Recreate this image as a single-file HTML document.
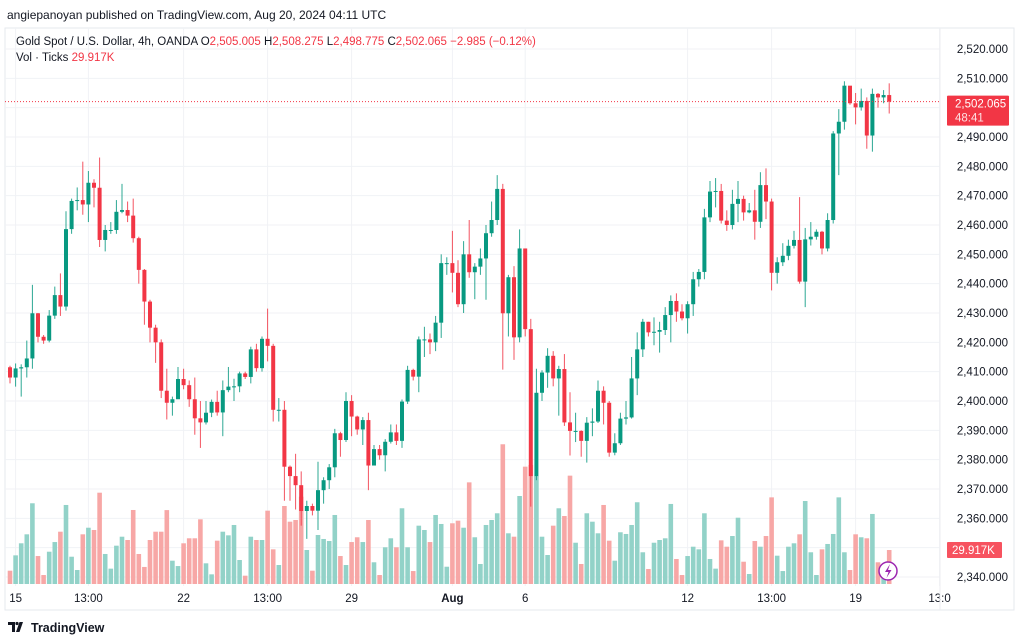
<!DOCTYPE html>
<html><head><meta charset="utf-8"><style>
html,body{margin:0;padding:0;background:#fff;}
body{width:1024px;height:643px;overflow:hidden;font-family:"Liberation Sans",sans-serif;position:relative;}
svg{position:absolute;left:0;top:0;}
</style></head><body>
<svg id="chart" width="1024" height="643" xmlns="http://www.w3.org/2000/svg">
<rect x="5" y="28" width="1009" height="582" fill="none" stroke="#e6e8ee"/>
<g id="grid"></g>
<g id="vol"></g>
<g id="candles"></g>
<g id="axis"></g>
<text x="7" y="19" font-size="12" fill="#131722">angiepanoyan published on TradingView.com, Aug 20, 2024 04:11 UTC</text>
<text x="16" y="45" font-size="11.5" fill="#131722">Gold Spot / U.S. Dollar, 4h, OANDA  O<tspan fill="#f23645">2,505.005</tspan>  H<tspan fill="#f23645">2,508.275</tspan>  L<tspan fill="#f23645">2,498.775</tspan>  C<tspan fill="#f23645">2,502.065</tspan>  <tspan fill="#f23645">−2.985 (−0.12%)</tspan></text>
<text x="16" y="61" font-size="11.5" fill="#131722">Vol · Ticks  <tspan fill="#f23645">29.917K</tspan></text>
<g>
<path d="M8 622h7v10h-3v-7H8z M16 632l3.5-10h3.5l-3.5 10z" fill="#131722"/>
<circle cx="17" cy="623.5" r="1.6" fill="#131722"/>
<text x="31" y="632" font-size="12.5" font-weight="bold" fill="#131722">TradingView</text>
</g>
</svg>
<script>
const closes=[2408,2411.1,2411.5,2414.5,2429.9,2421.9,2420.6,2429.1,2436.1,2432.2,2458.6,2468.2,2468.5,2467,2474.4,2472.7,2454.9,2458.3,2458.3,2464.5,2465.1,2463.2,2455.5,2444.7,2433.9,2425,2420,
2403.5,2399.4,2400.6,2407.5,2405.4,2400.6,2394.1,2392.7,2396,2399.7,2396.1,2403.7,2404.9,2405,2409.4,2408.2,2417.6,2411.2,2421.2,2418.8,2397,2397,2377.6,2374.4,2371.3,2362.5,2364.2,
2362.6,2369.6,2373,2377.4,2389,2386.7,2400,2394.7,2390.3,2393.5,2378,2383.6,2381.5,2386.1,2389.3,2386.4,2399.8,2410.6,2408.3,2421,2421,2420,2426.7,2447,2447,2443.7,2433,
2450,2443.9,2445.8,2448.6,2457.2,2461.7,2472.3,2429.9,2442.2,2421.7,2452,2424.5,2374.4,2402.8,2409.7,2415.4,2407.7,2410.9,2392.7,2389.8,2389.8,2386.4,2392.6,2393,2403.5,2399.4,2382.4,
2385.6,2394,2394.4,2407.7,2417.6,2427,2423.4,2423.6,2424.2,2429.3,2434.1,2430.5,2428.2,2433,2441.5,2444,2462.6,2471.4,2471.6,2461.5,2460,2467.2,2468.9,2464.3,2465,2461.1,2473.6,
2468,2443.7,2447.3,2449.5,2452.9,2454.9,2440.7,2455.1,2456,2457.7,2452,2461.7,2491.2,2495.2,2507.5,2501.5,2500.1,2502.3,2490.5,2504.7,2503.5,2504.3,2502.065];
const highs=[2412,2412.8,2412.5,2420.6,2439.6,2430,2422.5,2431,2439,2443.5,2464.7,2469,2472.8,2481.6,2478.4,2475.6,2483,2460,2461,2468.5,2474,2468,2469,2456,2445,2434.5,2426,
2421,2411,2401.5,2411.6,2411,2407,2408,2400,2400,2400.5,2403.5,2407,2411.6,2407.6,2410,2410,2418.5,2419.5,2422,2431.5,2419.5,2401,2400,2378,2382,2376,2366,
2365,2379.3,2374,2378.5,2390.5,2389.5,2403,2402,2395,2394.5,2396,2385,2385,2387,2392,2392,2400.5,2412,2411,2422,2425.3,2423,2429,2450,2449,2458,2448,
2454.5,2461.7,2447,2452,2460,2468,2477,2474,2443,2446,2458.5,2452,2428,2411,2410.5,2418,2417,2412,2416,2403,2396,2390,2394.5,2397.5,2407,2405,2400,
2389,2396,2400,2415,2423.4,2428,2427,2428.5,2427,2432,2436,2436.7,2433,2434,2444,2445,2465.5,2475,2476,2474,2465,2472,2475,2470,2467.5,2472,2478,
2479.3,2469,2449,2453.8,2455,2458,2469.5,2459,2461,2458.5,2458,2464,2492,2499.5,2509,2506,2505,2506.5,2503.5,2506.5,2505,2506,2508.3];
const lows=[2406,2404.9,2401.5,2408,2411,2420,2419.5,2420,2428,2429,2430.8,2457,2465,2463.5,2461,2466,2452.5,2451,2457,2457,2464,2461,2454,2440,2426,2420,2413,
2401,2393.7,2395,2402.5,2404,2398,2388.5,2384,2392,2394.5,2395,2388,2403,2400,2403,2407.5,2406,2410,2410,2413.5,2393,2393,2366,2366,2363,2357.5,2353,
2361,2356,2365,2370,2374,2381,2386,2388,2388.5,2385,2369.6,2378.5,2380,2376,2385.5,2385,2384,2399,2407,2403,2415,2416,2417,2421.5,2443,2437,2432,
2430,2442,2434.7,2443,2434.5,2456,2460,2410.7,2422,2414,2420,2422,2364,2373,2400,2404.5,2405,2395,2391.5,2381.4,2386,2381,2379,2388,2392.5,2392,2381,
2381.5,2385,2392,2394,2402,2415,2422,2419,2416.5,2422.5,2420,2427,2427.5,2423,2429,2439,2441.5,2461,2466,2460.5,2458,2458.5,2461,2461.5,2464,2455,2459,
2462,2437.7,2440,2446,2448,2452,2440,2432,2453,2455,2450,2451,2460.5,2477,2492.5,2501,2494.3,2499,2486,2485,2500,2501.5,2498];
const volumes=[11.7,25.2,35.8,43.7,71,24.6,7.9,28.4,36.9,46,69.5,24,12.3,43.7,49.5,47.5,80.3,26.4,13.5,33.7,41.6,38.7,65.1,26.4,15,38.7,46,
46,65,20.5,15.8,35.8,40.2,40.2,56.9,18.2,8.5,38.1,46,42.8,51.9,21.1,7.3,41.6,38.7,38.7,64.5,30.5,16.7,68.6,54.8,56.3,76.8,29.9,
11.7,43.1,39.6,37.8,60.7,24.6,16.7,36.9,41.1,36.9,56.3,19.1,7.9,32.3,40.2,32.3,66.6,32.3,11.4,51.3,47.5,36.9,60.7,52.8,15.2,53.4,55.7,
49.5,89.4,41.1,17.6,51.9,56.3,62.2,122.9,44.6,41.6,77.4,103.2,104.7,95,41.6,25.5,51.3,66.6,59.8,95.3,36.3,17.6,62.2,54.8,44.6,69.5,38.1,
20.5,45.5,44,51.9,71.9,27.9,13.2,36.3,38.7,40.2,70.4,22,7.9,24.6,32.8,30.5,62.2,22,13.5,38.4,32.8,42.2,58.3,19.6,8.8,37.8,32.8,
42.2,76.2,24.9,11.4,32.8,35.8,43.7,73,27.9,7.9,30.5,35.2,44,76.2,27.9,12.3,43.7,41.1,40.2,61.6,19.1,9.4,29.9];
const firstOpen=2411.5;
const priceTicks=[2520,2510,2490,2480,2470,2460,2450,2440,2430,2420,2410,2400,2390,2380,2370,2360,2340];
const timeLabels=["15","13:00","22","13:00","29","Aug","6","12","13:00","19","13:0"];
const timeLabelIdx=[1,14,31,46,61,79,92,121,136,151,166];

const NS="http://www.w3.org/2000/svg";
const X0=10, STEP=5.6, PLOT_R=940;
function xAt(i){return X0+STEP*i;}
function yPrice(p){return 49+(2520-p)*2.9333;}
function hVol(v){return v*1.137;}
const VOL_BASE=584;
function mk(tag,attrs,parent){const e=document.createElementNS(NS,tag);for(const k in attrs)e.setAttribute(k,attrs[k]);parent.appendChild(e);return e;}
const grid=document.getElementById('grid'),vol=document.getElementById('vol'),cg=document.getElementById('candles'),ax=document.getElementById('axis');

priceTicks.concat([2500,2350]).forEach(p=>{
  const l=mk('line',{x1:5,x2:PLOT_R,y1:yPrice(p),y2:yPrice(p),stroke:'#f0f2f6','stroke-width':1},grid);
  
  
});
timeLabels.forEach((t,k)=>{
  const x=xAt(timeLabelIdx[k])+(k===0?0:0);
  const l=mk('line',{x1:x,x2:x,y1:28,y2:586,stroke:'#f0f2f6','stroke-width':1},grid);
  
  
  const tx=mk('text',{x:x,y:602,'font-size':11.5,fill:'#131722','text-anchor':'middle','font-weight':t==='Aug'?'bold':'normal'},ax);
  tx.textContent=t;
  
  
});
mk('line',{x1:PLOT_R,x2:PLOT_R,y1:28,y2:610,stroke:'#eceef2'},ax);
priceTicks.forEach(p=>{
  const tx=mk('text',{x:1008,y:yPrice(p)+4,'font-size':11.5,fill:'#131722','text-anchor':'end'},ax);
  tx.textContent=p.toLocaleString('en-US',{minimumFractionDigits:3});
  
  
});

closes.forEach((c,i)=>{
  const o=i===0?firstOpen:closes[i-1];
  const up=c>=o;
  const col=up?'#089981':'#f23645';
  const x=xAt(i);
  const vb=mk('rect',{x:x-2.3,y:VOL_BASE-hVol(volumes[i]),width:4.6,height:hVol(volumes[i]),fill:up?'#92d2c8':'#f7a7a6'},vol);
  
  
  const g=mk('g',{},cg);
  
  
  mk('line',{x1:x,x2:x,y1:yPrice(highs[i]),y2:yPrice(lows[i]),stroke:col,'stroke-width':1,opacity:0.85},g);
  const top=yPrice(Math.max(o,c)),bot=yPrice(Math.min(o,c));
  mk('rect',{x:x-2,y:top,width:4,height:Math.max(1,bot-top),fill:col},g);
});

const last=closes[closes.length-1];
const pl=mk('line',{x1:5,x2:PLOT_R,y1:yPrice(last),y2:yPrice(last),stroke:'#f23645','stroke-width':1,'stroke-dasharray':'1 2'},ax);


const tag=mk('g',{},ax);


mk('rect',{x:947,y:yPrice(last)-6,width:62,height:30,fill:'#f23645',rx:1},tag);
const t1=mk('text',{x:955,y:yPrice(last)+6,'font-size':11.5,fill:'#fff'},tag);t1.textContent='2,502.065';
const t2=mk('text',{x:955,y:yPrice(last)+20,'font-size':11.5,fill:'#fff','opacity':0.85},tag);t2.textContent='48:41';
const vt=mk('g',{},ax);


const vy=VOL_BASE-hVol(volumes[volumes.length-1]);
mk('rect',{x:947,y:vy-8,width:55,height:16,fill:'#f7525f',rx:1},vt);
const t3=mk('text',{x:952,y:vy+4,'font-size':11.5,fill:'#fff'},vt);t3.textContent='29.917K';
const bolt=mk('g',{},ax);


mk('circle',{cx:888,cy:571,r:9,fill:'#fff',stroke:'#9c27b0','stroke-width':1.5},bolt);
mk('path',{d:'M890 564l-5 8h3.5l-2 6 5-8h-3.5z',fill:'#9c27b0'},bolt);
</script>
</body></html>
